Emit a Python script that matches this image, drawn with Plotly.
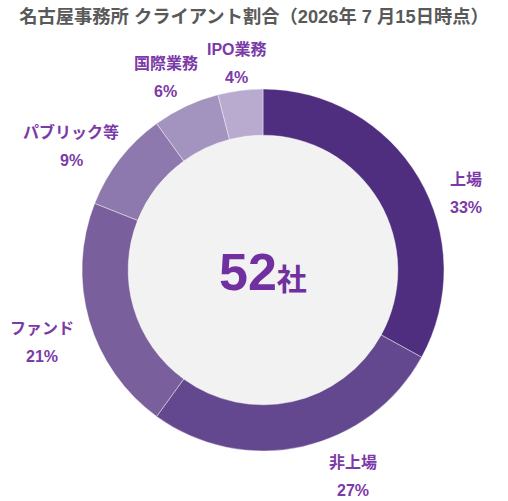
import math
import plotly.graph_objects as go

# === データ ===
labels = ["上場", "非上場", "ファンド", "パブリック等", "国際業務", "IPO業務"]
shares = [33, 27, 21, 9, 6, 4]
total_clients = 52
title_text = "名古屋事務所 クライアント割合（2026年 7 月15日時点）"

# === スタイル ===
colors = ["#4f2d7f", "#64488f", "#7a5f9d", "#8d79ad", "#a393bf", "#b9aacf"]
label_color = "#7b3aa8"
font_family = "Liberation Sans, Arial, Noto Sans CJK JP, sans-serif"

W, H = 508, 501
cx, cy, r_out = 263, 270, 181
hole = 0.745
# label placement: radius (px) and angle nudge (deg) per label
label_r = [217, 225, 233, 228, 216, 208]
label_nudge = [10, -11, -2, -5, -1.5, 0]

fig = go.Figure()
fig.add_trace(go.Pie(
    labels=labels,
    values=shares,
    hole=hole,
    sort=False,
    direction="clockwise",
    rotation=0,
    textinfo="none",
    hoverinfo="label+percent",
    marker=dict(colors=colors, line=dict(color="rgba(255,255,255,0.5)", width=0.8)),
    domain=dict(x=[(cx - r_out) / W, (cx + r_out) / W],
                y=[1 - (cy + r_out) / H, 1 - (cy - r_out) / H]),
    showlegend=False,
))

# 中央の灰色円
r_in = r_out * hole
fig.add_shape(type="circle", xref="paper", yref="paper", layer="below",
              x0=(cx - r_in) / W, x1=(cx + r_in) / W,
              y0=1 - (cy + r_in) / H, y1=1 - (cy - r_in) / H,
              fillcolor="#f2f2f2", line=dict(width=0))

# 外側ラベル
total = sum(shares)
cum = 0
for i, (lab, v) in enumerate(zip(labels, shares)):
    mid = (cum + v / 2) / total * 360 + label_nudge[i]
    cum += v
    a = math.radians(mid)
    px = cx + label_r[i] * math.sin(a)
    py = cy - label_r[i] * math.cos(a)
    for txt, dy in ((lab, -14), (f"{round(v / total * 100)}%", 14)):
        fig.add_annotation(x=px / W, y=1 - (py + dy) / H, xref="paper", yref="paper",
                           xanchor="center", yanchor="middle",
                           text=f"<b>{txt}</b>", showarrow=False,
                           font=dict(size=16, color=label_color, family=font_family))

# 中央テキスト
fig.add_annotation(x=cx / W, y=1 - (cy + 2) / H, xref="paper", yref="paper",
                   xanchor="center", yanchor="middle",
                   text=f"<b><span style='font-size:52px'>{total_clients}</span>"
                        f"<span style='font-size:30px'>社</span></b>",
                   showarrow=False, font=dict(size=30, color="#7030a0", family=font_family))

fig.update_layout(
    width=W, height=H,
    margin=dict(l=0, r=0, t=0, b=0),
    paper_bgcolor="white",
    plot_bgcolor="white",
    title=dict(text=f"<b>{title_text}</b>", x=0.5, xanchor="center",
               y=1 - 17 / H, yanchor="middle",
               font=dict(size=18.3, color="#595959", family=font_family)),
)

fig.write_html("out.html", config={"displayModeBar": False},
               post_script="document.body.style.margin='0';")
